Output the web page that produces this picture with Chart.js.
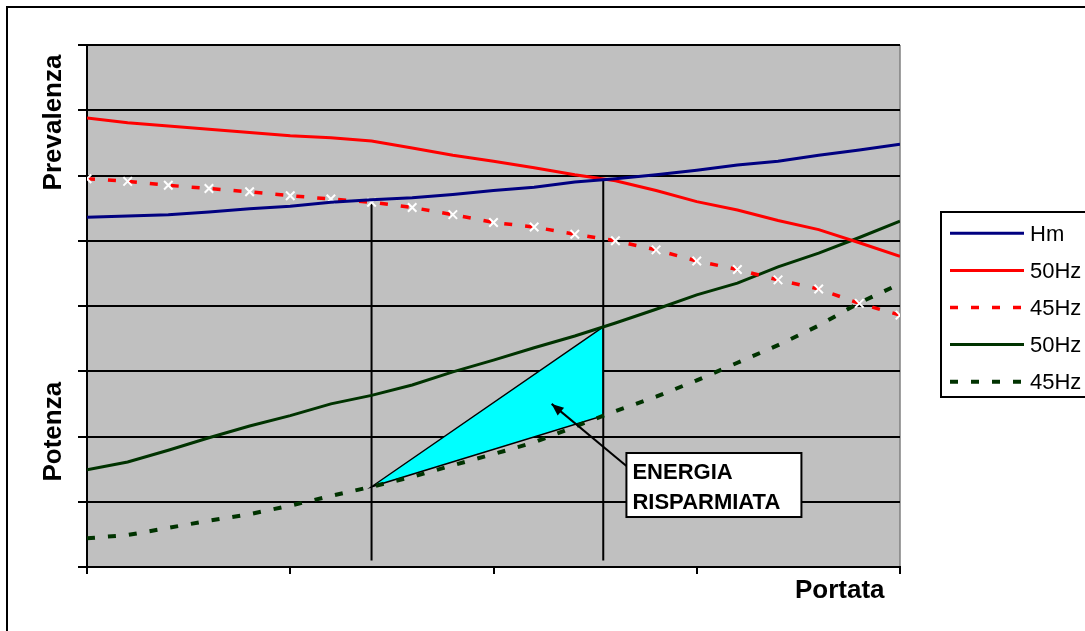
<!DOCTYPE html>
<html>
<head>
<meta charset="utf-8">
<script src="https://cdn.jsdelivr.net/npm/chart.js@4.4.0/dist/chart.umd.min.js"></script>
<style>
html, body { margin: 0; padding: 0; background: #fff; }
#wrap { width: 1085px; height: 631px; }
</style>
</head>
<body>
<div id="wrap"><canvas id="myChart" width="1085" height="631"></canvas></div>
<script>
// portata: 21 points along the x axis, ticks every 5
var portata = [0,1,2,3,4,5,6,7,8,9,10,11,12,13,14,15,16,17,18,19,20];
var xTickStep = 5;

// prevalenza curves (upper part of the chart)
var hm     = [5.36,5.38,5.40,5.44,5.49,5.53,5.59,5.63,5.66,5.71,5.77,5.82,5.90,5.95,6.01,6.08,6.16,6.22,6.31,6.39,6.48];
var prev50 = [6.88,6.81,6.76,6.71,6.66,6.61,6.58,6.53,6.42,6.31,6.22,6.12,6.01,5.92,5.77,5.60,5.47,5.31,5.17,4.97,4.76];
var prev45 = [5.95,5.91,5.85,5.80,5.75,5.69,5.64,5.59,5.51,5.40,5.28,5.21,5.10,5.00,4.86,4.69,4.56,4.40,4.26,4.04,3.86];

// potenza curves (lower part)
var pot50 = [1.49,1.61,1.79,1.98,2.16,2.32,2.50,2.63,2.79,2.99,3.17,3.36,3.54,3.74,3.95,4.17,4.35,4.60,4.81,5.05,5.30];
var pot45 = [0.44,0.49,0.60,0.71,0.81,0.94,1.09,1.23,1.38,1.56,1.73,1.91,2.15,2.39,2.61,2.86,3.13,3.40,3.70,4.05,4.34];

var seriesNames = ['Hm', '50Hz', '45Hz', '50Hz', '45Hz'];
var yMax = 8;

// working points marked by the two vertical lines (in portata units)
var cutPoints = [7, 12.7];
var boxText = ['ENERGIA', 'RISPARMIATA'];

var FONT = '"Liberation Sans", Arial, sans-serif';

function toPoints(arr) {
    return arr.map(function (v, i) { return { x: portata[i], y: v }; });
}

// value of a curve between two portata points
function valueAt(arr, x) {
    var i = Math.floor(x);
    if (i >= arr.length - 1) return arr[arr.length - 1];
    var f = x - i;
    return arr[i] + (arr[i + 1] - arr[i]) * f;
}

var sfondo = {
    id: 'sfondo',
    beforeDraw: function (chart) {
        var ctx = chart.ctx, a = chart.chartArea;
        ctx.save();
        ctx.fillStyle = '#fff';
        ctx.fillRect(0, 0, chart.width, chart.height);
        ctx.strokeStyle = '#000';
        ctx.lineWidth = 2;
        ctx.strokeRect(7, 7, chart.width + 20, chart.height + 20);
        ctx.fillStyle = '#c0c0c0';
        ctx.fillRect(a.left, a.top, a.right - a.left, a.bottom - a.top);
        ctx.strokeStyle = '#808080';
        ctx.lineWidth = 1.5;
        ctx.beginPath();
        ctx.moveTo(a.right, a.top);
        ctx.lineTo(a.right, a.bottom);
        ctx.stroke();
        ctx.restore();
    }
};

// cyan triangle + vertical lines, under the curves
var risparmio = {
    id: 'risparmio',
    beforeDatasetsDraw: function (chart) {
        var ctx = chart.ctx, x = chart.scales.x, y = chart.scales.y;
        var x1 = cutPoints[0], x2 = cutPoints[1];
        ctx.save();
        ctx.beginPath();
        ctx.moveTo(x.getPixelForValue(x1), y.getPixelForValue(valueAt(pot45, x1)));
        ctx.lineTo(x.getPixelForValue(x2), y.getPixelForValue(valueAt(pot50, x2)));
        ctx.lineTo(x.getPixelForValue(x2), y.getPixelForValue(valueAt(pot45, x2)));
        ctx.closePath();
        ctx.fillStyle = '#00ffff';
        ctx.fill();
        ctx.strokeStyle = '#000';
        ctx.lineWidth = 1.5;
        ctx.stroke();

        ctx.lineWidth = 2;
        ctx.beginPath();
        ctx.moveTo(x.getPixelForValue(x1), y.getPixelForValue(valueAt(prev45, x1)));
        ctx.lineTo(x.getPixelForValue(x1), y.getPixelForValue(0.1));
        ctx.moveTo(x.getPixelForValue(x2), y.getPixelForValue(valueAt(hm, x2)));
        ctx.lineTo(x.getPixelForValue(x2), y.getPixelForValue(0.1));
        ctx.stroke();
        ctx.restore();
    },
    afterDatasetsDraw: function (chart) {
        var ctx = chart.ctx, x = chart.scales.x, y = chart.scales.y;
        // text box
        var bx = x.getPixelForValue(13.27), by = y.getPixelForValue(1.747);
        var bw = 175, bh = 64;
        ctx.save();
        // arrow from box to the triangle
        var tx = x.getPixelForValue(11.43), ty = y.getPixelForValue(2.5);
        var sx = bx, sy = by + 13;
        ctx.strokeStyle = '#000';
        ctx.lineWidth = 2;
        ctx.beginPath();
        ctx.moveTo(sx, sy);
        ctx.lineTo(tx, ty);
        ctx.stroke();
        var ang = Math.atan2(ty - sy, tx - sx);
        ctx.fillStyle = '#000';
        ctx.beginPath();
        ctx.moveTo(tx, ty);
        ctx.lineTo(tx - 12 * Math.cos(ang) + 5 * Math.sin(ang), ty - 12 * Math.sin(ang) - 5 * Math.cos(ang));
        ctx.lineTo(tx - 12 * Math.cos(ang) - 5 * Math.sin(ang), ty - 12 * Math.sin(ang) + 5 * Math.cos(ang));
        ctx.closePath();
        ctx.fill();

        ctx.fillStyle = '#fff';
        ctx.fillRect(bx, by, bw, bh);
        ctx.lineWidth = 2;
        ctx.strokeRect(bx, by, bw, bh);
        ctx.fillStyle = '#000';
        ctx.font = 'bold 22px ' + FONT;
        ctx.textAlign = 'left';
        ctx.textBaseline = 'alphabetic';
        ctx.fillText(boxText[0], bx + 6, by + 26);
        ctx.fillText(boxText[1], bx + 6, by + 56);
        ctx.restore();
    }
};

// axis titles and legend
var testi = {
    id: 'testi',
    afterDraw: function (chart) {
        var ctx = chart.ctx;
        ctx.save();
        ctx.fillStyle = '#000';
        ctx.font = 'bold 26px ' + FONT;
        ctx.textBaseline = 'alphabetic';
        ctx.textAlign = 'center';
        [['Prevalenza', 122.5], ['Potenza', 431.7]].forEach(function (t) {
            ctx.save();
            ctx.translate(61, t[1]);
            ctx.rotate(-Math.PI / 2);
            ctx.fillText(t[0], 0, 0);
            ctx.restore();
        });
        ctx.textAlign = 'left';
        ctx.fillText('Portata', 795, 598);

        // legend
        ctx.strokeStyle = '#000';
        ctx.lineWidth = 2;
        ctx.strokeRect(941, 212, 200, 185);
        ctx.font = '22px ' + FONT;
        chart.data.datasets.forEach(function (ds, i) {
            var ly = 233.3 + i * 37.1;
            ctx.strokeStyle = ds.borderColor;
            ctx.lineWidth = ds.borderWidth;
            ctx.setLineDash(ds.borderDash || []);
            ctx.beginPath();
            ctx.moveTo(950, ly);
            ctx.lineTo(1024, ly);
            ctx.stroke();
            ctx.setLineDash([]);
            ctx.fillStyle = '#000';
            ctx.fillText(ds.label, 1030, ly + 7.5);
        });
        ctx.restore();
    }
};

var data_things = {
    datasets: [
        { label: seriesNames[0], data: toPoints(hm), borderColor: '#000080', borderWidth: 3, pointRadius: 0 },
        { label: seriesNames[1], data: toPoints(prev50), borderColor: '#ff0000', borderWidth: 3, pointRadius: 0 },
        { label: seriesNames[2], data: toPoints(prev45), borderColor: '#ff0000', borderWidth: 3.5, borderDash: [8, 13],
          pointStyle: 'crossRot', pointRadius: 6, pointBorderColor: '#fff', pointBackgroundColor: '#fff', pointBorderWidth: 2 },
        { label: seriesNames[3], data: toPoints(pot50), borderColor: '#003300', borderWidth: 3, pointRadius: 0 },
        { label: seriesNames[4], data: toPoints(pot45), borderColor: '#003300', borderWidth: 4, borderDash: [8, 13], pointRadius: 0 }
    ]
};

var config = {
    type: 'line',
    data: data_things,
    plugins: [sfondo, risparmio, testi],
    options: {
        responsive: false,
        animation: false,
        layout: { padding: { left: 78, top: 45, right: 185, bottom: 57 } },
        elements: { line: { tension: 0, borderCapStyle: 'butt' } },
        plugins: { legend: { display: false }, tooltip: { enabled: false } },
        scales: {
            x: {
                type: 'linear', min: 0, max: portata[portata.length - 1],
                ticks: { display: false, stepSize: xTickStep },
                grid: { drawOnChartArea: false, color: '#000', lineWidth: 2, tickLength: 7 },
                border: { color: '#000', width: 2 },
                afterFit: function (s) { s.height = 7; }
            },
            y: {
                min: 0, max: yMax,
                ticks: { display: false, stepSize: 1 },
                grid: { color: '#000', lineWidth: 2, tickLength: 9 },
                border: { color: '#000', width: 2 },
                afterFit: function (s) { s.width = 9; }
            }
        }
    }
};

var myChart = new Chart(document.getElementById('myChart'), config);
</script>
</body>
</html>
